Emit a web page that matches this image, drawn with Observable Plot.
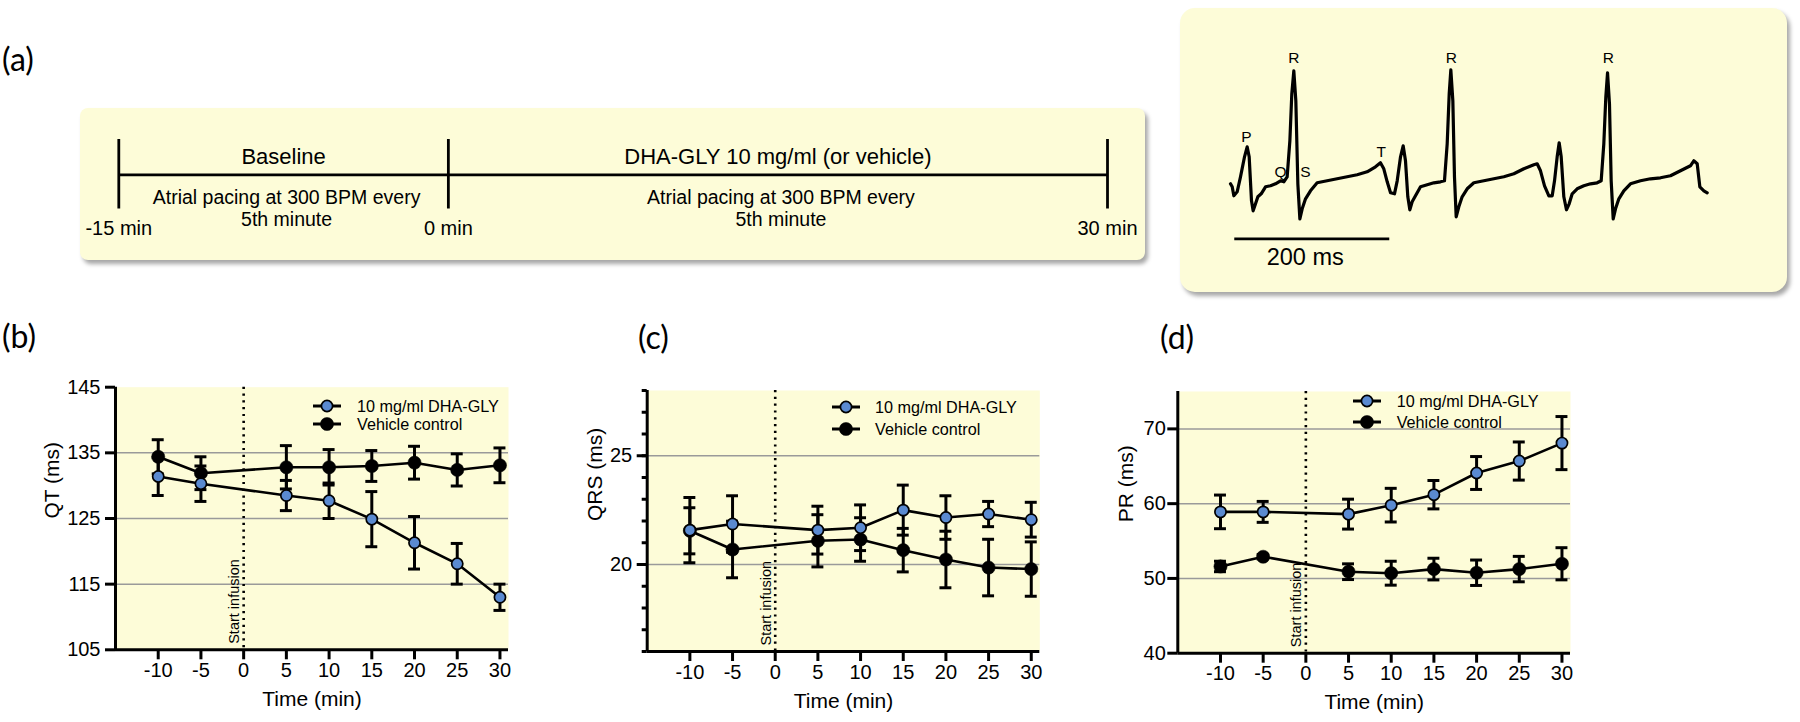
<!DOCTYPE html>
<html><head><meta charset="utf-8">
<script src="https://cdn.jsdelivr.net/npm/d3@7"></script>
<script src="https://cdn.jsdelivr.net/npm/@observablehq/plot@0.6"></script>
<style>
html,body{margin:0;padding:0;background:#fff;}
#root{position:relative;width:1800px;height:722px;overflow:hidden;font-family:"Liberation Sans",Arial,sans-serif;color:#000;}
.box{position:absolute;background:#fdfcd8;box-shadow:3px 4px 4px rgba(0,0,0,0.35);}
.plabel{position:absolute;font-family:Lato,"Open Sans",sans-serif;font-size:32px;line-height:32px;}
.legtext{position:absolute;font-size:16.2px;line-height:18px;white-space:nowrap;}
svg{overflow:visible;}
</style></head><body><div id="root"></div>
<script>
// ---------------- data ----------------
const times = [-10, -5, 5, 10, 15, 20, 25, 30];
const xTicks = [-10, -5, 0, 5, 10, 15, 20, 25, 30];
const seriesNames = ["10 mg/ml DHA-GLY", "Vehicle control"];

const qtDha    = [131.4, 130.3, 128.5, 127.7, 124.9, 121.3, 118.1, 113.0];
const qtDhaErr = [2.9, 2.7, 2.3, 2.7, 4.2, 4.0, 3.1, 2.0];
const qtVeh    = [134.4, 131.9, 132.8, 132.8, 133.0, 133.5, 132.4, 133.1];
const qtVehErr = [2.6, 2.5, 3.3, 2.7, 2.35, 2.5, 2.45, 2.65];
const qtTicks = [105, 115, 125, 135, 145];

const qrsDha    = [21.58, 21.86, 21.58, 21.69, 22.5, 22.16, 22.32, 22.06];
const qrsDhaErr = [1.5, 1.3, 1.1, 1.05, 1.15, 1.0, 0.58, 0.8];
const qrsVeh    = [21.55, 20.69, 21.09, 21.15, 20.66, 20.23, 19.86, 19.79];
const qrsVehErr = [1.06, 1.3, 1.2, 1.0, 1.0, 1.3, 1.3, 1.25];
const qrsTicks = [20, 25];
const qrsMinorTicks = [16, 17, 18, 19, 20, 21, 22, 23, 24, 25, 26, 27, 28];

const prDha    = [58.9, 58.9, 58.6, 59.8, 61.2, 64.1, 65.7, 68.1];
const prDhaErr = [2.25, 1.4, 2.0, 2.25, 1.9, 2.2, 2.55, 3.55];
const prVeh    = [51.6, 52.9, 50.9, 50.7, 51.25, 50.76, 51.25, 51.96];
const prVehErr = [0.7, 0.3, 1.05, 1.6, 1.45, 1.7, 1.7, 2.15];
const prTicks = [40, 50, 60, 70];

// timeline (panel a)
const phaseNames = ["Baseline", "DHA-GLY 10 mg/ml (or vehicle)"];
const phaseStart = [-15, 0];
const phaseEnd = [0, 30];
const phaseNote = "Atrial pacing at 300 BPM every\n5th minute";
const milestones = [-15, 0, 30];
const milestoneLabels = ["-15 min", "0 min", "30 min"];

// ECG trace (ms, arbitrary mV units)
const ecgTime = [0,2.2,4.3,8.6,12.9,18.1,21.5,24.1,27.1,29.2,32.3,35.3,39.6,45.2,51.6,58.1,64.5,68.8,73.1,76.6,79.1,81.7,84.3,86.9,89.5,92.5,96.8,103.2,111.8,124.7,137.6,150.5,163.4,176.3,187.1,193.5,197.8,202.2,206.5,211.6,215.1,219.4,222.8,225.8,228.8,231.4,234.4,238.7,245.2,253.8,262.4,271.0,276.1,279.6,282.2,284.3,286.9,289.0,291.2,294.6,298.9,305.4,314.0,326.9,339.8,352.7,365.6,378.5,391.4,395.7,400.0,405.2,410.8,415.1,418.1,421.5,424.1,426.7,430.1,433.5,437.0,440.9,447.3,455.9,464.5,473.1,478.3,481.7,484.3,486.5,489.0,491.2,493.8,496.8,501.1,507.5,516.1,529.0,541.9,554.8,567.7,580.6,593.5,597.8,602.2,605.6,610.8,615.1];
const ecgVolt = [0,-0.03,-0.12,-0.08,0.07,0.27,0.37,0.27,-0.17,-0.27,-0.2,-0.13,-0.1,-0.03,-0.02,0,0.03,0.02,0.07,0.43,0.9,1.13,0.83,0,-0.35,-0.25,-0.15,-0.07,0.01,0.03,0.05,0.07,0.09,0.12,0.17,0.21,0.15,0.02,-0.09,-0.1,0.03,0.27,0.38,0.23,-0.13,-0.26,-0.18,-0.12,-0.03,-0.01,0.01,0.02,0.03,0.4,0.9,1.14,0.83,0.07,-0.33,-0.23,-0.13,-0.05,0.01,0.03,0.05,0.07,0.1,0.15,0.19,0.2,0.13,-0.02,-0.12,-0.12,0.03,0.27,0.41,0.27,-0.13,-0.26,-0.2,-0.1,-0.05,-0.02,0,0.01,0.03,0.4,0.87,1.11,0.8,0.03,-0.35,-0.25,-0.15,-0.07,0,0.03,0.05,0.06,0.08,0.13,0.18,0.23,0.2,-0.03,-0.07,-0.09];
const ecgLabels = ["P", "Q", "R", "S", "T", "R", "R"];
const ecgLabelTime = [20.6, 64.5, 81.7, 96.8, 194.5, 284.8, 487.4];
const ecgLabelVolt = [0.47, 0.12, 1.26, 0.12, 0.32, 1.26, 1.26];
const scaleBarMs = 200;
const scaleBarStart = 5.5;

// ---------------- style ----------------
const BG = "#fdfcd8";
const BLUE = "#5a8ad0";
const FONT = "Liberation Sans, Arial, sans-serif";
const root = document.getElementById("root");

function place(el, left, top) {
  el.style.position = "absolute";
  el.style.left = left + "px";
  el.style.top = top + "px";
  return el;
}
function panelLabel(txt, left, cy) {
  const d = document.createElement("div");
  d.className = "plabel";
  d.textContent = txt;
  d.style.left = left + "px";
  d.style.top = (cy - 17) + "px";
  root.appendChild(d);
}

// ---------------- panel (a): timeline ----------------
(function () {
  const box = document.createElement("div");
  box.className = "box";
  Object.assign(box.style, {left: "80px", top: "108px", width: "1065px", height: "152px", borderRadius: "8px"});
  root.appendChild(box);
  const phases = phaseNames.map((n, i) => ({name: n, start: phaseStart[i], end: phaseEnd[i], note: phaseNote}));
  const ms = milestones.map((m, i) => ({t: m, label: milestoneLabels[i]}));
  const svg = Plot.plot({
    width: 1065, height: 152,
    marginLeft: 38.3, marginRight: 38, marginTop: 0, marginBottom: 0,
    x: {domain: [d3.min(milestones), d3.max(milestones)], axis: null},
    y: {domain: [0, 152], range: [0, 152], axis: null},
    style: {fontFamily: FONT, background: "transparent", overflow: "visible"},
    marks: [
      Plot.ruleY([66.3], {x1: d3.min(milestones), x2: d3.max(milestones), stroke: "#000", strokeWidth: 2.8}),
      Plot.ruleX(ms, {x: "t", y1: 31, y2: 100.5, stroke: "#000", strokeWidth: 2.8}),
      Plot.text(phases, {x: d => (d.start + d.end) / 2, y: 48.7, text: "name", fontSize: 22, fill: "#000"}),
      Plot.text(phases, {x: d => (d.start + d.end) / 2, y: 99.3, text: "note", fontSize: 19.5, lineHeight: 1.11, dx: 3, fill: "#000"}),
      Plot.text(ms, {x: "t", y: 120.3, text: "label", fontSize: 20, fill: "#000"})
    ]
  });
  place(svg, 0, 0);
  box.appendChild(svg);
})();

// ---------------- ECG inset ----------------
(function () {
  const box = document.createElement("div");
  box.className = "box";
  Object.assign(box.style, {left: "1180px", top: "8px", width: "607px", height: "284px", borderRadius: "15px"});
  root.appendChild(box);
  const idx = d3.range(ecgTime.length);
  const labs = ecgLabels.map((l, i) => ({l, t: ecgLabelTime[i], v: ecgLabelVolt[i]}));
  const bar = [{t1: scaleBarStart, t2: scaleBarStart + scaleBarMs, label: scaleBarMs + " ms"}];
  const svg = Plot.plot({
    width: 607, height: 284, margin: 0,
    x: {domain: [0, 615.1], range: [50, 526.7], axis: null},
    y: {domain: [0, 1], range: [175.3, 75.3], axis: null},
    style: {fontFamily: FONT, background: "transparent", overflow: "visible"},
    marks: [
      Plot.line(idx, {x: i => ecgTime[i], y: i => ecgVolt[i], stroke: "#000", strokeWidth: 3.2, strokeLinejoin: "round", curve: "linear"}),
      Plot.text(labs, {x: "t", y: "v", text: "l", fontSize: 15.5, fill: "#000"}),
      Plot.ruleY(bar, {y: -0.55, x1: "t1", x2: "t2", stroke: "#000", strokeWidth: 2.8}),
      Plot.text(bar, {x: d => (d.t1 + d.t2) / 2, y: -0.735, text: "label", fontSize: 23.5, dx: -7, fill: "#000"})
    ]
  });
  place(svg, 0, 0);
  box.appendChild(svg);
})();

// ---------------- panels b, c, d ----------------
function chartPanel(cfg) {
  const dha = times.map((t, i) => ({t, m: cfg.dha[i], e: cfg.dhaErr[i]}));
  const veh = times.map((t, i) => ({t, m: cfg.veh[i], e: cfg.vehErr[i]}));
  const all = dha.concat(veh);
  const cap = 0.7; // half-width of error-bar caps in minutes
  const marks = [
    Plot.frame({fill: BG, stroke: "none"}),
    Plot.ruleY(cfg.grid, {stroke: "#9a9a9a", strokeWidth: 1.5}),
    Plot.ruleX([0], {stroke: "#000", strokeWidth: 2.6, strokeDasharray: "2.2,4.6"}),
    Plot.text([{t: 0, s: "Start infusion"}], {x: "t", y: () => cfg.domain[0], text: "s", rotate: -90, textAnchor: "start", dx: -9, dy: -6, fontSize: 14.5, fill: "#000"}),
    Plot.line(veh, {x: "t", y: "m", stroke: "#000", strokeWidth: 2.6}),
    Plot.line(dha, {x: "t", y: "m", stroke: "#000", strokeWidth: 2.6}),
    Plot.ruleX(all, {x: "t", y1: d => d.m - d.e, y2: d => d.m + d.e, stroke: "#000", strokeWidth: 3}),
    Plot.ruleY(all, {y: d => d.m + d.e, x1: d => d.t - cap, x2: d => d.t + cap, stroke: "#000", strokeWidth: 3}),
    Plot.ruleY(all, {y: d => d.m - d.e, x1: d => d.t - cap, x2: d => d.t + cap, stroke: "#000", strokeWidth: 3}),
    Plot.dot(veh, {x: "t", y: "m", r: 6.6, fill: "#000", stroke: "#000", strokeWidth: 0.5}),
    Plot.dot(dha, {x: "t", y: "m", r: 5.6, fill: BLUE, stroke: "#000", strokeWidth: 1.7}),
    Plot.ruleX([-15], {stroke: "#000", strokeWidth: 3}),
    Plot.ruleY([cfg.domain[0]], {stroke: "#000", strokeWidth: 3}),
    Plot.axisX({ticks: xTicks, tickSize: 10, tickPadding: 3, strokeWidth: 3, fontSize: 20, label: null, tickFormat: d => String(d)}),
    Plot.axisY({ticks: cfg.yticks, tickSize: 10, tickPadding: cfg.tickPad, strokeWidth: 3, fontSize: 20, label: null, tickFormat: d => String(d)}),
    Plot.text(["Time (min)"], {frameAnchor: "bottom", dy: 56, fontSize: 21, fill: "#000"}),
    Plot.text([cfg.ylabel], {frameAnchor: "left", dx: -cfg.ylabOff, rotate: -90, fontSize: 21, fill: "#000"})
  ];
  if (cfg.minor) marks.push(Plot.axisY({ticks: cfg.minor, tickSize: 5, strokeWidth: 3, text: null, label: null}));
  const svg = Plot.plot({
    width: cfg.width, height: 402,
    marginLeft: cfg.mL, marginRight: cfg.mR, marginTop: cfg.mT, marginBottom: cfg.mB,
    x: {domain: [-15, 31]},
    y: {domain: cfg.domain},
    style: {fontFamily: FONT, fontSize: "20px", background: "transparent", overflow: "visible", color: "#000"},
    marks
  });
  place(svg, cfg.left, 320);
  root.appendChild(svg);

  // legend
  const L = cfg.legend;
  [0, 1].forEach(k => {
    const ns = "http://www.w3.org/2000/svg";
    const s = document.createElementNS(ns, "svg");
    s.setAttribute("width", 34); s.setAttribute("height", 18);
    const ln = document.createElementNS(ns, "line");
    ln.setAttribute("x1", 3); ln.setAttribute("x2", 31); ln.setAttribute("y1", 9); ln.setAttribute("y2", 9);
    ln.setAttribute("stroke", "#000"); ln.setAttribute("stroke-width", 3);
    s.appendChild(ln);
    const c = document.createElementNS(ns, "circle");
    c.setAttribute("cx", 17); c.setAttribute("cy", 9);
    c.setAttribute("r", k === 0 ? 5.6 : 6.6);
    c.setAttribute("fill", k === 0 ? BLUE : "#000");
    c.setAttribute("stroke", "#000"); c.setAttribute("stroke-width", k === 0 ? 1.7 : 0.5);
    s.appendChild(c);
    place(s, L.cx - 17, L.y[k] - 9);
    root.appendChild(s);
    const t = document.createElement("div");
    t.className = "legtext";
    t.textContent = seriesNames[k];
    t.style.left = L.tx + "px";
    t.style.top = (L.y[k] - 9) + "px";
    root.appendChild(t);
  });
}

chartPanel({left: 0, width: 540, mL: 115, mR: 32, mT: 66.7, mB: 72.7,
  domain: [105, 145], yticks: qtTicks, grid: [115, 125, 135], minor: null,
  dha: qtDha, dhaErr: qtDhaErr, veh: qtVeh, vehErr: qtVehErr,
  ylabel: "QT (ms)", ylabOff: 63, tickPad: 5,
  legend: {cx: 326.5, tx: 357, y: [406, 424]}});

chartPanel({left: 560, width: 520, mL: 86.7, mR: 40.7, mT: 70, mB: 71,
  domain: [16, 28], yticks: qrsTicks, grid: [20, 25], minor: qrsMinorTicks,
  dha: qrsDha, dhaErr: qrsDhaErr, veh: qrsVeh, vehErr: qrsVehErr,
  ylabel: "QRS (ms)", ylabOff: 52, tickPad: 5,
  legend: {cx: 845.7, tx: 875, y: [407.3, 429]}});

chartPanel({left: 1090, width: 520, mL: 87.3, mR: 40, mT: 71, mB: 69.3,
  domain: [40, 75], yticks: prTicks, grid: [50, 60, 70], minor: null,
  dha: prDha, dhaErr: prDhaErr, veh: prVeh, vehErr: prVehErr,
  ylabel: "PR (ms)", ylabOff: 52, tickPad: 2,
  legend: {cx: 1366.7, tx: 1396.7, y: [401, 421.7]}});

panelLabel("(a)", 2, 60);
panelLabel("(b)", 2, 337);
panelLabel("(c)", 638, 338);
panelLabel("(d)", 1160, 338);
</script></body></html>
